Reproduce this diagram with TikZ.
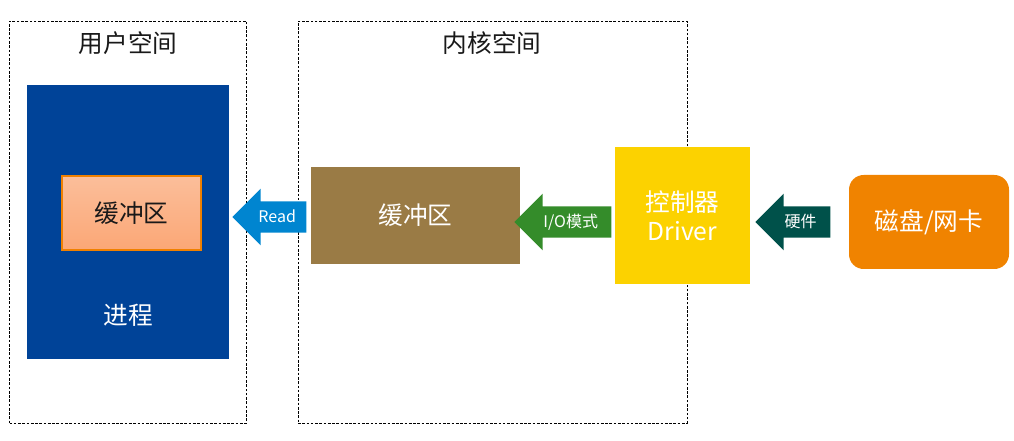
\documentclass[tikz,border=0pt]{standalone}
\usepackage{fontspec}
\setmainfont{Noto Sans CJK SC}
\usetikzlibrary{shapes.arrows,positioning}

\definecolor{procblue}{RGB}{0,67,152}
\definecolor{bufpeachtop}{RGB}{251,190,154}
\definecolor{bufpeachbot}{RGB}{251,167,118}
\definecolor{bufborder}{RGB}{240,128,0}
\definecolor{kbufbrown}{RGB}{154,123,69}
\definecolor{readblue}{RGB}{0,133,208}
\definecolor{iogreen}{RGB}{52,140,42}
\definecolor{ctrlyellow}{RGB}{252,210,0}
\definecolor{hwteal}{RGB}{0,81,74}
\definecolor{diskorange}{RGB}{240,131,0}
\definecolor{titlegray}{RGB}{25,25,25}

\begin{document}
\begin{tikzpicture}[
    x=0.75pt, y=-0.75pt,
    space/.style={rectangle, draw=black, dashed, dash pattern=on 2pt off 1.2pt, line width=0.6pt, inner sep=0pt},
    box/.style={rectangle, inner sep=0pt, text=white, font=\fontsize{18.5}{22}\selectfont},
    title/.style={font=\fontsize{18.5}{22}\selectfont, text=titlegray},
    blockarrow/.style={single arrow, shape border rotate=180, anchor=tip, inner xsep=0pt, inner ysep=6pt,
        text height=10pt, text depth=1pt, single arrow head extend=9.5pt, text=white,
        font=\fontsize{12}{14}\selectfont}
]
    \useasboundingbox (0,0) rectangle (1014,441);

    % the two spaces
    \node[space, minimum width=177.75pt, minimum height=301.5pt] (userspace) at (128,222) {};
    \node[space, minimum width=291.75pt, minimum height=301.5pt] (kernelspace) at (492.5,222) {};
    \node[title] (usertitle) at (128,43) {用户空间};
    \node[title] (kerneltitle) at (492,43) {内核空间};

    % user side
    \node[box, fill=procblue, minimum width=151.5pt, minimum height=205.5pt] (process) at (128,222) {};
    \node[box, top color=bufpeachtop, bottom color=bufpeachbot, draw=bufborder, line width=0.8pt,
        minimum width=104.25pt, minimum height=55.5pt, text=titlegray] (ubuf) at (131.5,213) {缓冲区};
    \node[box] (proclabel) at (128,315) {进程};

    % kernel side
    \node[box, fill=kbufbrown, minimum width=156.75pt, minimum height=72.75pt] (kbuf) at (415.5,215.5) {缓冲区};
    \node[box, fill=ctrlyellow, minimum width=101.25pt, minimum height=102.75pt, align=center] (ctrl) at (682.5,215.5) {控制器\\Driver};

    % hardware
    \node[box, fill=diskorange, rounded corners=11pt, minimum width=120pt, minimum height=70.5pt] (disk) at (929,222) {磁盘/网卡};

    % arrows, placed by their tips
    \node[blockarrow, fill=readblue, minimum height=55.5pt] (readarrow) at (232,217) {Read};
    \node[blockarrow, fill=iogreen, minimum height=72.75pt] (ioarrow) at (514,222) {I/O模式};
    \node[blockarrow, fill=hwteal, minimum height=56.25pt] (hwarrow) at (755,222) {硬件};
\end{tikzpicture}
\end{document}
